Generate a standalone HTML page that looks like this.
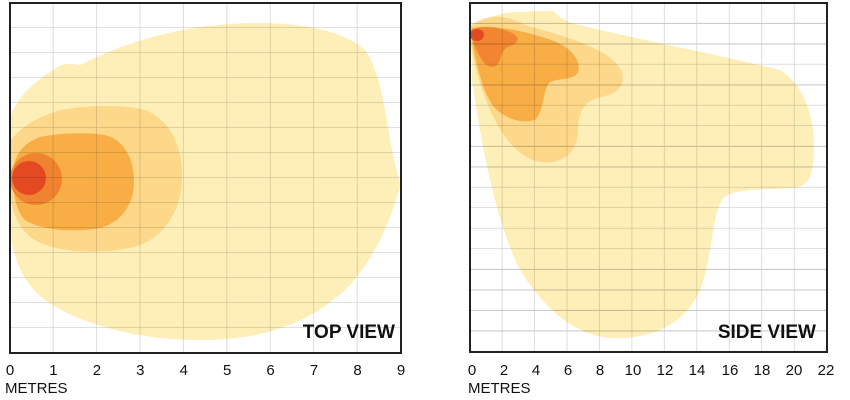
<!DOCTYPE html>
<html><head><meta charset="utf-8"><style>
html,body{margin:0;padding:0;background:#fff;}
svg{display:block;font-family:"Liberation Sans",sans-serif;}
</style></head><body>
<svg width="850" height="400" viewBox="0 0 850 400">
<defs>
<pattern id="g1" x="10" y="3" width="43.44" height="25" patternUnits="userSpaceOnUse">
<path d="M43.44 0V25M0 25H43.44" stroke="#000" stroke-opacity="0.2" stroke-width="1.3" fill="none"/>
</pattern>
<pattern id="g2" x="470" y="3" width="32.45" height="20.5" patternUnits="userSpaceOnUse">
<path d="M32.45 0V20.5M0 20.5H32.45" stroke="#000" stroke-opacity="0.2" stroke-width="1.3" fill="none"/>
</pattern>
</defs>
<!-- LEFT -->
<g>
<path d="M11 115 C20 92 40 78 58 67 C65 62 72 64 80 65 C120 45 170 28 230 24 C290 20 340 28 365 50 C380 70 385 110 392 150 C396 170 400 182 400 186 C392 215 380 250 350 285 C310 325 260 340 200 340 C140 340 80 325 45 300 C25 285 12 260 11 230 Z" fill="#fde9a0" fill-opacity="0.75"/>
<path d="M11 140 C25 122 45 115 60 110 C90 105 120 104 145 110 C170 120 182 145 182 175 C182 210 165 240 130 248 C95 255 55 252 35 240 C18 230 11 210 11 195 Z" fill="#fbc76a" fill-opacity="0.6"/>
<path d="M14 165 C18 148 28 142 40 137 C60 133 85 132 105 135 C125 140 134 160 134 182 C134 205 120 225 95 229 C70 232 40 230 25 220 C15 210 12 190 14 165 Z" fill="#f6a233" fill-opacity="0.8"/>
<circle cx="36" cy="179" r="26" fill="#ef7b2c" fill-opacity="0.85"/>
<circle cx="29" cy="178" r="17" fill="#e44a22"/>
</g>
<rect x="10" y="3" width="391" height="350" fill="url(#g1)"/>
<rect x="10" y="3" width="391" height="350" fill="none" stroke="#222" stroke-width="2"/>
<text x="395" y="338" text-anchor="end" font-size="19" font-weight="bold" fill="#111">TOP VIEW</text>
<g font-size="15" fill="#111" text-anchor="middle">
<text x="10" y="375">0</text><text x="53.4" y="375">1</text><text x="96.9" y="375">2</text><text x="140.3" y="375">3</text><text x="183.8" y="375">4</text><text x="227.2" y="375">5</text><text x="270.6" y="375">6</text><text x="314.1" y="375">7</text><text x="357.5" y="375">8</text><text x="401" y="375">9</text>
</g>
<text x="5" y="393" font-size="15" fill="#111">METRES</text>
<!-- RIGHT -->
<g>
<path d="M471 28 C485 18 500 12 520 12 C540 11 553 10 555 12 C560 18 565 22 580 25 C640 40 720 55 780 70 C805 85 815 120 814 150 C813 175 810 185 795 188 C760 190 730 188 722 200 C712 215 712 260 700 290 C685 325 650 340 610 338 C575 335 545 310 520 270 C500 230 485 170 472 80 Z" fill="#fde9a0" fill-opacity="0.75"/>
<path d="M471 25 C485 15 505 13 525 25 C560 35 600 45 618 65 C628 80 622 92 605 96 C585 100 578 110 578 130 C577 155 560 165 540 162 C520 158 505 140 495 120 C482 95 474 65 471 45 Z" fill="#fbc76a" fill-opacity="0.6"/>
<path d="M472 28 C490 24 520 30 545 38 C570 45 582 60 578 72 C575 80 560 78 550 82 C542 90 545 110 535 120 C520 124 505 118 495 108 C483 95 475 60 472 40 Z" fill="#f6a233" fill-opacity="0.8"/>
<path d="M471 30 C480 26 495 26 510 32 C520 37 520 42 510 46 C500 50 502 58 498 64 C492 70 486 66 482 60 C476 50 471 40 471 30 Z" fill="#ef7b2c" fill-opacity="0.8"/>
<ellipse cx="477" cy="35" rx="7" ry="6" fill="#e44a22"/>
</g>
<rect x="470" y="3" width="357" height="349" fill="url(#g2)"/>
<rect x="470" y="3" width="357" height="349" fill="none" stroke="#222" stroke-width="2"/>
<text x="816" y="338" text-anchor="end" font-size="19" font-weight="bold" fill="#111">SIDE VIEW</text>
<g font-size="15" fill="#111" text-anchor="middle">
<text x="472" y="375">0</text><text x="504" y="375">2</text><text x="536" y="375">4</text><text x="568" y="375">6</text><text x="600" y="375">8</text><text x="633" y="375">10</text><text x="665" y="375">12</text><text x="697" y="375">14</text><text x="730" y="375">16</text><text x="762" y="375">18</text><text x="794" y="375">20</text><text x="826" y="375">22</text>
</g>
<text x="468" y="393" font-size="15" fill="#111">METRES</text>
</svg>
</body></html>
